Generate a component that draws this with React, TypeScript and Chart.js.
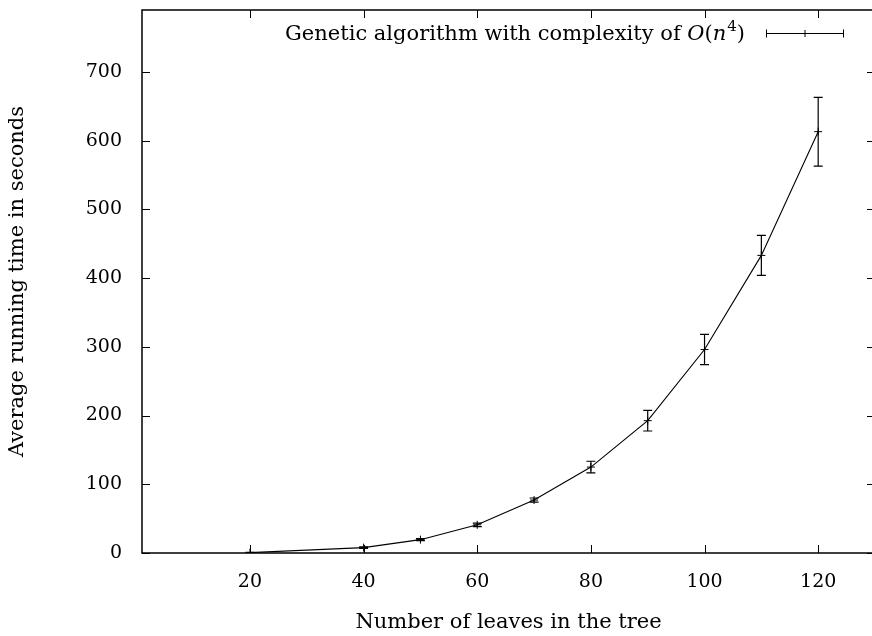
import React, { useEffect, useRef } from "react";
import { Chart, registerables } from "chart.js";

Chart.register(...registerables);

const leaves = [20, 40, 50, 60, 70, 80, 90, 100, 110, 120];
const avgTime = [0.5, 7.8, 19.4, 41, 77, 125, 192.5, 296, 433, 613];
const timeErr = [0.3, 1, 1.5, 2.5, 3, 8.5, 15, 22, 29, 50];
const xTicks = [20, 40, 60, 80, 100, 120];
const yTicks = [0, 100, 200, 300, 400, 500, 600, 700];
const legendLabel = "Genetic algorithm with complexity of ";
const xTitle = "Number of leaves in the tree";
const yTitle = "Average running time in seconds";

const FAMILY = "'DejaVu Serif', serif";
const FSIZE = 19;
const TSIZE = 21;

const gnuplotPlugin = {
  id: "gnuplotLook",
  afterDatasetsDraw(chart: any) {
    const ctx = chart.ctx;
    const xs = chart.scales.x;
    const ys = chart.scales.y;
    const { left, right, top, bottom } = chart.chartArea;
    ctx.save();
    ctx.strokeStyle = "#000";
    ctx.fillStyle = "#000";

    // error bars
    ctx.save();
    ctx.beginPath();
    ctx.rect(left, top, right - left, bottom - top);
    ctx.clip();
    ctx.lineWidth = 1.2;
    leaves.forEach((v, i) => {
      const px = xs.getPixelForValue(v);
      const yl = ys.getPixelForValue(avgTime[i] - timeErr[i]);
      const yh = ys.getPixelForValue(avgTime[i] + timeErr[i]);
      ctx.beginPath();
      ctx.moveTo(px, yl);
      ctx.lineTo(px, yh);
      ctx.moveTo(px - 4.5, yl);
      ctx.lineTo(px + 4.5, yl);
      ctx.moveTo(px - 4.5, yh);
      ctx.lineTo(px + 4.5, yh);
      ctx.stroke();
    });
    ctx.restore();

    // frame
    ctx.lineWidth = 1.5;
    ctx.strokeRect(left, top, right - left, bottom - top);

    // inward ticks (mirrored)
    ctx.lineWidth = 1;
    const tl = 8;
    ctx.beginPath();
    xTicks.forEach((v) => {
      const px = Math.round(xs.getPixelForValue(v)) + 0.5;
      ctx.moveTo(px, bottom);
      ctx.lineTo(px, bottom - tl);
      ctx.moveTo(px, top);
      ctx.lineTo(px, top + tl);
    });
    yTicks.forEach((v) => {
      const py = Math.round(ys.getPixelForValue(v)) + 0.5;
      ctx.moveTo(left, py);
      ctx.lineTo(left + tl, py);
      ctx.moveTo(right, py);
      ctx.lineTo(right - tl, py);
    });
    ctx.stroke();

    // legend
    const normal = `${TSIZE}px ${FAMILY}`;
    const italic = `italic ${TSIZE}px ${FAMILY}`;
    const small = `${Math.round(TSIZE * 0.7)}px ${FAMILY}`;
    const parts: [string, string, number][] = [
      [legendLabel, normal, 0],
      ["O", italic, 0],
      ["(", normal, 0],
      ["n", italic, 0],
      ["4", small, -9],
      [")", normal, 0],
    ];
    let total = 0;
    parts.forEach(([t, f]) => {
      ctx.font = f;
      total += ctx.measureText(t).width;
    });
    const textRight = 744;
    const baseY = 40;
    let cx = textRight - total;
    ctx.textBaseline = "alphabetic";
    ctx.textAlign = "left";
    parts.forEach(([t, f, dy]) => {
      ctx.font = f;
      ctx.fillText(t, cx, baseY + dy);
      cx += ctx.measureText(t).width + (t === "n" ? 1 : 0);
    });
    // legend sample (error bar style)
    const ly = 33.5;
    const lx0 = 766;
    const lx1 = 844;
    const lm = (lx0 + lx1) / 2;
    ctx.lineWidth = 1;
    ctx.beginPath();
    ctx.moveTo(lx0, ly);
    ctx.lineTo(lx1, ly);
    ctx.moveTo(lx0 + 0.5, ly - 4);
    ctx.lineTo(lx0 + 0.5, ly + 4);
    ctx.moveTo(lx1 - 0.5, ly - 4);
    ctx.lineTo(lx1 - 0.5, ly + 4);
    ctx.moveTo(lm, ly - 3.5);
    ctx.lineTo(lm, ly + 3.5);
    ctx.stroke();

    ctx.restore();
  },
};

export default function App() {
  const canvasRef = useRef<HTMLCanvasElement | null>(null);

  useEffect(() => {
    document.body.style.margin = "0";
    const canvas = canvasRef.current;
    if (!canvas) return;
    const font = { family: FAMILY, size: FSIZE };
    const tfont = { family: FAMILY, size: TSIZE };
    const chart = new Chart(canvas, {
      type: "line",
      data: {
        datasets: [
          {
            data: leaves.map((x, i) => ({ x, y: avgTime[i] })),
            borderColor: "#000",
            borderWidth: 1.1,
            pointStyle: "cross",
            pointRadius: 4,
            pointBorderWidth: 1,
            pointBorderColor: "#000",
            pointBackgroundColor: "#000",
            fill: false,
            tension: 0,
          },
        ],
      },
      options: {
        responsive: false,
        animation: false,
        devicePixelRatio: 1,
        layout: { padding: { top: 10, right: 1, left: 0, bottom: 0 } },
        plugins: { legend: { display: false }, tooltip: { enabled: false } },
        scales: {
          x: {
            type: "linear",
            min: 1,
            max: 130,
            afterBuildTicks: (a: any) => {
              a.ticks = xTicks.map((value) => ({ value }));
            },
            afterFit: (s: any) => {
              s.height = 83;
              s.paddingLeft = 0;
              s.paddingRight = 0;
            },
            grid: { display: false, drawTicks: false },
            border: { display: false },
            ticks: { color: "#000", font, padding: 18, maxRotation: 0, autoSkip: false },
            title: { display: true, text: xTitle, color: "#000", font: tfont, padding: { top: 0, bottom: 1 } },
          },
          y: {
            type: "linear",
            min: 0,
            max: 790,
            afterBuildTicks: (a: any) => {
              a.ticks = yTicks.map((value) => ({ value }));
            },
            afterFit: (s: any) => {
              s.width = 142;
              s.paddingTop = 0;
              s.paddingBottom = 0;
            },
            grid: { display: false, drawTicks: false },
            border: { display: false },
            ticks: { color: "#000", font, padding: 20, autoSkip: false },
            title: { display: true, text: yTitle, color: "#000", font: tfont, padding: { top: 5, bottom: 0 } },
          },
        },
      },
      plugins: [gnuplotPlugin],
    } as any);
    return () => chart.destroy();
  }, []);

  return (
    <div style={{ position: "fixed", left: 0, top: 0, width: 872, height: 636, overflow: "hidden", background: "#fff" }}>
      <canvas ref={canvasRef} width={880} height={636} style={{ display: "block", width: 880, height: 636 }} />
    </div>
  );
}
